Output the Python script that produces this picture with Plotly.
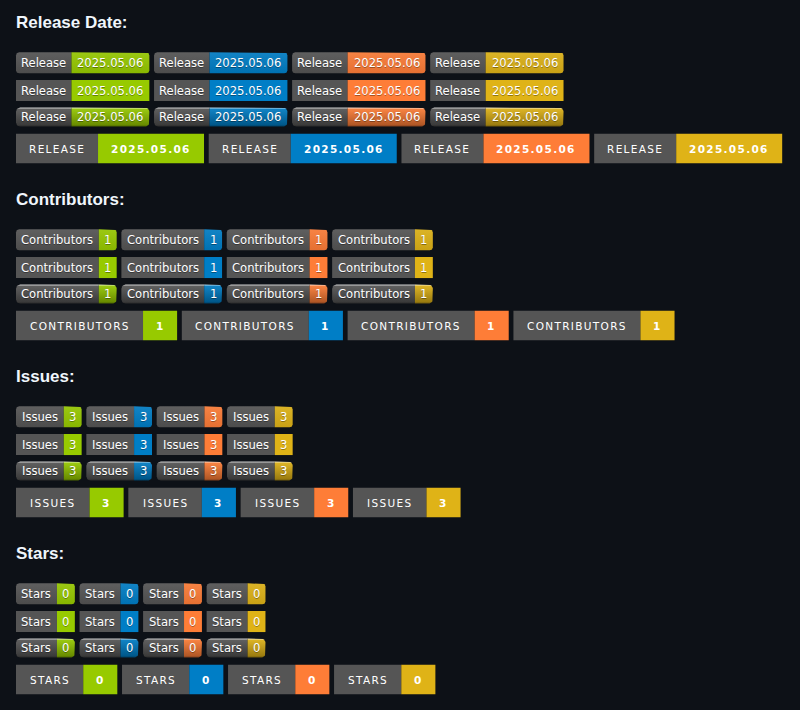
import numpy as np
import plotly.graph_objects as go

# what the page shows: one block of shields.io badges per repo stat
sections = ["Release Date:", "Contributors:", "Issues:", "Stars:"]
labels = ["Release", "Contributors", "Issues", "Stars"]
values = ["2025.05.06", "1", "3", "0"]
colours = ["#97ca00", "#007ec6", "#fe7d37", "#dfb317"]
styles = ["flat", "flat-square", "plastic", "for-the-badge"]

BG = "#0d1117"
GREY = "#555555"
S = 1.053          # screenshot is scaled up slightly from the 20px badges
LEFT = 16
GAP = 4.7
FIRST_ROW = 52.3
SECTION_STEP = 177
ROW_DY = [0, 27.7, 55.3, 81.5]

# approx Verdana advances in em (shields sizes badges with Verdana)
VERDANA = {
    "A": .684, "B": .686, "C": .698, "E": .632, "I": .421, "L": .557,
    "N": .748, "O": .787, "R": .695, "S": .683, "T": .616, "U": .732,
    "a": .601, "b": .623, "e": .596, "i": .274, "l": .274, "n": .633,
    "o": .607, "r": .427, "s": .521, "t": .394, "u": .633, ".": .364,
}
DIGIT, DIGIT_BOLD = .636, .711


def text_w(txt, size, bold=False):
    w = 0
    for ch in txt:
        if ch.isdigit():
            w += DIGIT_BOLD if bold else DIGIT
        else:
            w += VERDANA.get(ch, .6)
    return w * size


def badge_size(label, value, style):
    if style == "for-the-badge":
        lab = label.upper()
        wl = text_w(lab, 10) + 1.25 * len(lab) + 24
        wv = text_w(value, 10, bold=True) + 1.25 * len(value) + 24
        h = 28
    else:
        wl = text_w(label, 11) + 10
        wv = text_w(value, 11) + 10
        h = 18 if style == "plastic" else 20
    return wl * S, wv * S, h * S


def mix(c, other, a):
    c = [int(c[i:i + 2], 16) for i in (1, 3, 5)]
    o = [int(other[i:i + 2], 16) for i in (1, 3, 5)]
    r = [round(c[k] * (1 - a) + o[k] * a) for k in range(3)]
    return "rgb(%d,%d,%d)" % tuple(r)


def outline(x0, x1, y0, y1, r, left, right):
    # clockwise on screen (y axis is reversed)
    corners = [
        (left, x0 + r, y0 + r, np.pi, 1.5 * np.pi, x0, y0),
        (right, x1 - r, y0 + r, 1.5 * np.pi, 2 * np.pi, x1, y0),
        (right, x1 - r, y1 - r, 0, 0.5 * np.pi, x1, y1),
        (left, x0 + r, y1 - r, 0.5 * np.pi, np.pi, x0, y1),
    ]
    xs, ys = [], []
    for rounded, cx, cy, a0, a1, px, py in corners:
        if rounded and r > 0:
            t = np.linspace(a0, a1, 8)
            xs += list(cx + r * np.cos(t))
            ys += list(cy + r * np.sin(t))
        else:
            xs.append(px)
            ys.append(py)
    xs.append(xs[0])
    ys.append(ys[0])
    return xs, ys


def add_segment(fig, x0, x1, y0, y1, colour, style, left=False, right=False):
    r = {"flat": 3, "plastic": 4}.get(style, 0) * S
    xs, ys = outline(x0, x1, y0, y1, r, left, right)
    tr = dict(x=xs, y=ys, mode="lines", fill="toself", line=dict(width=0),
              hoverinfo="skip", showlegend=False)
    if style == "flat":
        tr["fillgradient"] = dict(type="vertical", start=y0, stop=y1, colorscale=[
            [0, mix(colour, "#bbbbbb", .1)], [1, mix(colour, "#000000", .1)]])
    elif style == "plastic":
        tr["fillgradient"] = dict(type="vertical", start=y0, stop=y1, colorscale=[
            [0, mix(colour, "#ffffff", .7)], [.1, mix(colour, "#aaaaaa", .1)],
            [.9, mix(colour, "#000000", .3)], [1, mix(colour, "#000000", .5)]])
    else:
        tr["fillcolor"] = colour
    fig.add_trace(go.Scatter(**tr))


fig = go.Figure()

for si, (title, lab, val) in enumerate(zip(sections, labels, values)):
    top = FIRST_ROW + si * SECTION_STEP
    fig.add_annotation(x=LEFT, y=top - 29.8, xshift=-2, text=title,
                       showarrow=False, xanchor="left", yanchor="middle",
                       font=dict(family="Liberation Sans", size=17,
                                 weight="bold", color="#f0f6fc"))
    for ri, style in enumerate(styles):
        wl, wv, h = badge_size(lab, val, style)
        y0 = top + ROW_DY[ri]
        y1 = y0 + h
        ftb = style == "for-the-badge"
        x = LEFT
        for col in colours:
            add_segment(fig, x, x + wl, y0, y1, GREY, style, left=True)
            add_segment(fig, x + wl, x + wl + wv, y0, y1, col, style, right=True)
            if ftb:
                sp = "letter-spacing:%.2fpx" % (1.25 * S)
                ltxt = "<span style='%s'>%s</span>" % (sp, lab.upper())
                vtxt = "<span style='%s'>%s</span>" % (sp, val)
                lfont = dict(family="DejaVu Sans", size=10 * S, color="#ffffff")
                vfont = dict(family="DejaVu Sans", size=10 * S, color="#ffffff",
                             weight="bold")
            else:
                ltxt, vtxt = lab, val
                shadow = "0px 1px 0px rgba(1,1,1,0.35)"
                lfont = dict(family="DejaVu Sans", size=11 * S, color="#ffffff",
                             shadow=shadow)
                vfont = lfont
            fig.add_annotation(x=x + wl / 2, y=(y0 + y1) / 2, text=ltxt,
                               showarrow=False, xanchor="center",
                               yanchor="middle", font=lfont)
            fig.add_annotation(x=x + wl + wv / 2, y=(y0 + y1) / 2, text=vtxt,
                               showarrow=False, xanchor="center",
                               yanchor="middle", font=vfont)
            x += wl + wv + GAP

fig.update_layout(
    width=800, height=710,
    margin=dict(l=0, r=0, t=0, b=0),
    paper_bgcolor=BG, plot_bgcolor=BG,
    xaxis=dict(range=[0, 800], visible=False, fixedrange=True),
    yaxis=dict(range=[710, 0], visible=False, fixedrange=True),
)

# the page's default body margin would push the figure 8px in
fig.write_html("out.html", config={"displayModeBar": False},
               post_script="document.body.style.margin='0';"
                           "document.body.style.background='%s';" % BG)
